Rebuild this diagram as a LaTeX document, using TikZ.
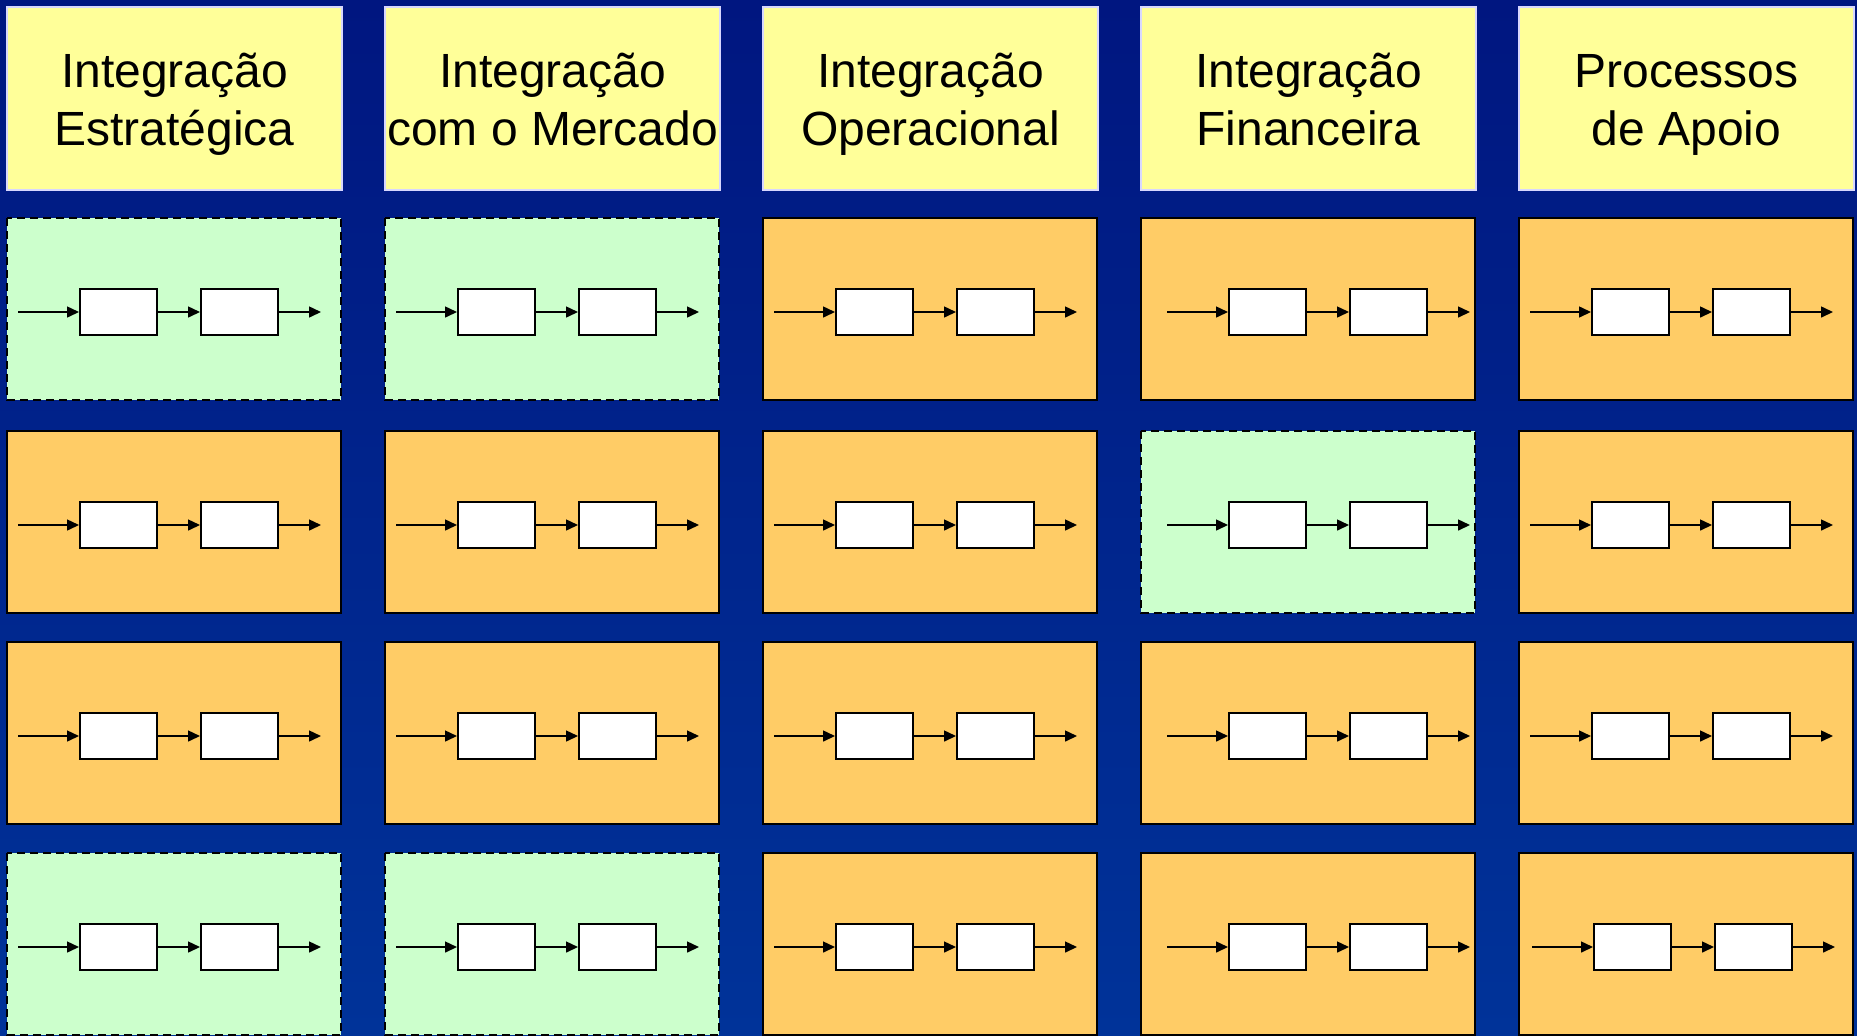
\documentclass[tikz,border=0pt]{standalone}
\usepackage{fontspec}
\setmainfont{Liberation Sans}
\usetikzlibrary{arrows.meta}
\definecolor{fundoA}{RGB}{0,22,128}
\definecolor{fundoB}{RGB}{0,51,153}
\definecolor{amarelo}{RGB}{255,255,153}
\definecolor{laranja}{RGB}{255,204,102}
\definecolor{verde}{RGB}{204,255,204}
\definecolor{borda}{RGB}{215,215,255}
\newcommand{\celula}[5]{%
   \begin{scope}[shift={(#2,#3)}]
     \draw[#4] (0,0) rectangle (334,182);
     \coordinate (#1e) at (#5+11,94);
     \node[etapa] (#1a) at (#5+72,94) {};
     \node[etapa] (#1b) at (#5+193,94) {};
     \coordinate (#1s) at (#5+314,94);
     \draw[seta] (#1e) -- (#1a);
     \draw[seta] (#1a) -- (#1b);
     \draw[seta] (#1b) -- (#1s);
   \end{scope}}
\tikzset{cabeca/.style={draw=borda, line width=0.6pt, fill=amarelo},
   titulo/.style={align=center, inner sep=0pt, font=\fontsize{24}{29}\selectfont},
   ativo/.style={draw, line width=1pt, fill=laranja},
   lacuna/.style={draw, line width=1.1pt, fill=verde, dash pattern=on 4pt off 2.5pt},
   etapa/.style={draw, line width=0.9pt, fill=white, minimum width=38.5pt, minimum height=23pt, inner sep=0pt, anchor=west},
   seta/.style={line width=0.75pt, -{Triangle[length=6pt,width=5.5pt]}}}

\begin{document}
\begin{tikzpicture}[x=0.5pt,y=-0.5pt]
   \clip (0,0) rectangle (1857,1035);
   \shade[top color=fundoA, bottom color=fundoB] (0,0) rectangle (1857,1035);
   \draw[cabeca] (7,7) rectangle ++(335,183);
   \draw[cabeca] (385,7) rectangle ++(335,183);
   \draw[cabeca] (763,7) rectangle ++(335,183);
   \draw[cabeca] (1141,7) rectangle ++(335,183);
   \draw[cabeca] (1519,7) rectangle ++(335,183);
   \node[titulo] (t1) at (174.5,104.5) {\strut Integração\\\strut Estratégica};
   \node[titulo] (t2) at (552.5,104.5) {\strut Integração\\\strut com o Mercado};
   \node[titulo] (t3) at (930.5,104.5) {\strut Integração\\\strut Operacional};
   \node[titulo] (t4) at (1308.5,104.5) {\strut Integração\\\strut Financeira};
   \node[titulo] (t5) at (1686.5,104.5) {\strut Processos\\\strut de Apoio};
   \celula{c11}{7}{218}{lacuna}{0}
   \celula{c12}{385}{218}{lacuna}{0}
   \celula{c13}{763}{218}{ativo}{0}
   \celula{c14}{1141}{218}{ativo}{15}
   \celula{c15}{1519}{218}{ativo}{0}
   \celula{c21}{7}{431}{ativo}{0}
   \celula{c22}{385}{431}{ativo}{0}
   \celula{c23}{763}{431}{ativo}{0}
   \celula{c24}{1141}{431}{lacuna}{15}
   \celula{c25}{1519}{431}{ativo}{0}
   \celula{c31}{7}{642}{ativo}{0}
   \celula{c32}{385}{642}{ativo}{0}
   \celula{c33}{763}{642}{ativo}{0}
   \celula{c34}{1141}{642}{ativo}{15}
   \celula{c35}{1519}{642}{ativo}{0}
   \celula{c41}{7}{853}{lacuna}{0}
   \celula{c42}{385}{853}{lacuna}{0}
   \celula{c43}{763}{853}{ativo}{0}
   \celula{c44}{1141}{853}{ativo}{15}
   \celula{c45}{1519}{853}{ativo}{2}
\end{tikzpicture}
\end{document}
